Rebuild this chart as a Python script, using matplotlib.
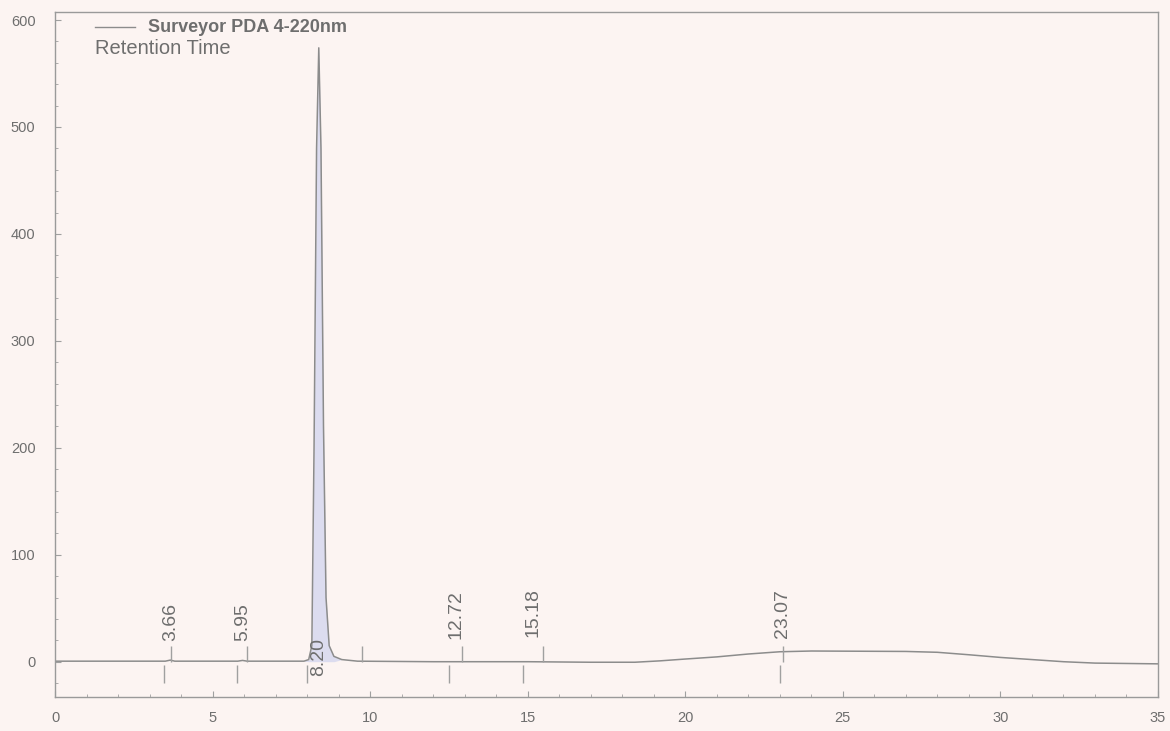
import matplotlib
matplotlib.use("Agg")
import matplotlib.pyplot as plt
from matplotlib.ticker import MultipleLocator

plt.rcParams["font.family"] = ["Liberation Sans", "DejaVu Sans"]

# ---- data ----
time_min = [0.0, 2.0, 3.5, 3.66, 3.8, 5.8, 5.95, 6.1, 7.9, 8.05, 8.15, 8.22, 8.30, 8.37,
            8.44, 8.52, 8.60, 8.70, 8.85, 9.1, 9.6, 12.0, 15.0, 17.0, 18.4, 19.2, 20.0,
            21.0, 22.0, 23.0, 24.0, 25.5, 27.0, 28.0, 29.0, 30.0, 31.0, 32.0, 33.0, 35.0]
signal = [0.5, 0.5, 0.5, 1.5, 0.5, 0.5, 1.2, 0.5, 0.5, 2.0, 15.0, 200.0, 480.0, 574.0,
          480.0, 220.0, 60.0, 15.0, 5.0, 2.0, 0.5, 0.0, 0.0, -0.5, -0.5, 0.8, 2.5,
          4.5, 7.2, 9.3, 10.0, 9.8, 9.6, 8.8, 6.5, 4.0, 2.0, 0.0, -1.3, -2.0]

peak_labels = ["3.66", "5.95", "8.20", "12.72", "15.18", "23.07"]
peak_label_x = [3.66, 5.95, 8.37, 12.72, 15.18, 23.07]
peak_label_y = [19, 19, -13, 21, 23, 22]
peak_end_x = [3.69, 6.10, 9.75, 12.90, 15.48, 23.10]      # upper markers
peak_start_x = [3.47, 5.77, 8.00, 12.50, 14.84, 23.00]    # lower markers

x_ticks = [0, 5, 10, 15, 20, 25, 30, 35]
y_ticks = [0, 100, 200, 300, 400, 500, 600]

bg = "#fcf4f2"
grey = "#8c8c8c"
txt = "#6e6e6e"

fig = plt.figure(figsize=(11.7, 7.31), dpi=100, facecolor=bg)
ax = fig.add_axes([55/1170, 34/731, 1103/1170, 685/731], facecolor=bg)

main_peak = [(t > 8.0 and t < 9.0) for t in time_min]
ax.fill_between(time_min, signal, 0, where=main_peak,
                color="#dcdcef", linewidth=0, interpolate=True)
ax.plot(time_min, signal, color=grey, linewidth=1.1)

# peak markers
for xe in peak_end_x:
    ax.vlines(xe, 0, 15, color="#a0a0a0", linewidth=1)
for xs in peak_start_x:
    ax.vlines(xs, -3, -20, color="#a0a0a0", linewidth=1)
for lab, lx, ly in zip(peak_labels, peak_label_x, peak_label_y):
    ax.text(lx, ly, lab, rotation=90, ha="center", va="bottom",
            fontsize=14, color=txt)

ax.set_xlim(0, 35)
ax.set_ylim(-33, 607.5)
ax.set_xticks(x_ticks)
ax.set_yticks(y_ticks)
ax.xaxis.set_minor_locator(MultipleLocator(1))
ax.yaxis.set_minor_locator(MultipleLocator(20))
ax.tick_params(which="both", direction="in", colors="#a0a0a0", labelcolor=txt,
               labelsize=10.5)
ax.tick_params(which="major", length=4)
ax.tick_params(which="minor", length=2)
ax.tick_params(axis="x", pad=10)
ax.tick_params(axis="y", pad=14)
for s in ax.spines.values():
    s.set_color("#9a9a9a")
    s.set_linewidth(1)

# legend-like header
ax.plot([0.036, 0.0725], [0.978, 0.978], transform=ax.transAxes, color=grey,
        linewidth=1)
ax.text(0.084, 0.978, "Surveyor PDA 4-220nm", transform=ax.transAxes,
        ha="left", va="center", fontsize=13, fontweight="bold", color=txt)
ax.text(0.036, 0.946, "Retention Time", transform=ax.transAxes,
        ha="left", va="center", fontsize=14.5, color=txt)

fig.savefig("out.png", dpi=100, facecolor=bg)
